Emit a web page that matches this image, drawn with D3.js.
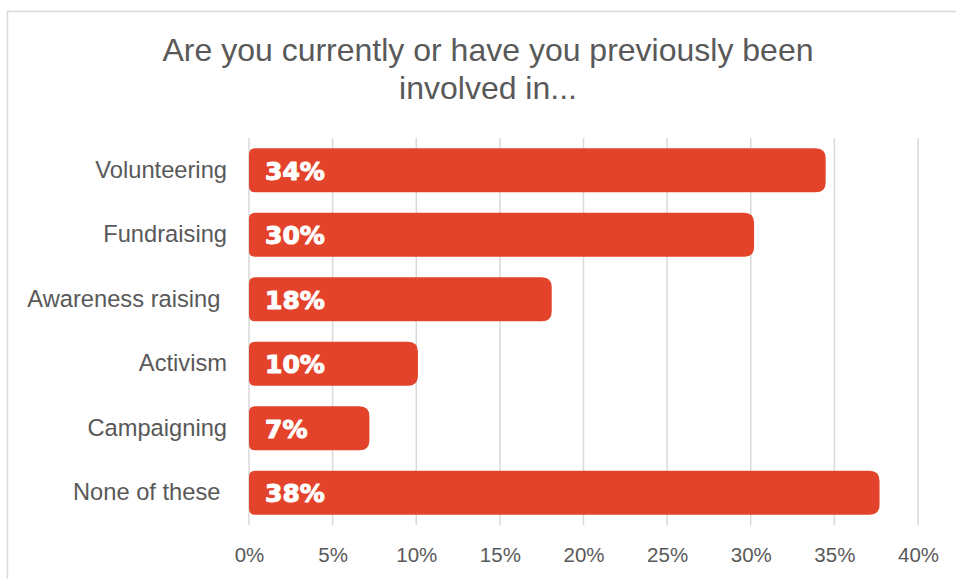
<!DOCTYPE html>
<html>
<head>
<meta charset="utf-8">
<script src="https://cdn.jsdelivr.net/npm/d3@7"></script>
<style>
  html, body { margin: 0; padding: 0; background: #fff; }
  svg { display: block; }
</style>
</head>
<body>
<svg id="chart" width="956" height="579"></svg>
<script>
// Survey answers, in display order (top to bottom)
const categories = ["Volunteering", "Fundraising", "Awareness raising ", "Activism", "Campaigning", "None of these "];
const shares = [0.3448, 0.302, 0.181, 0.101, 0.072, 0.377];
const tickValues = [0, 0.05, 0.10, 0.15, 0.20, 0.25, 0.30, 0.35, 0.40];
const titleLines = ["Are you currently or have you previously been", "involved in..."];

const svg = d3.select("#chart");
const W = 956, H = 579;
const margin = { top: 138, right: 38, bottom: 54, left: 249 };
const textGray = "#595959";
const barColor = "#E2432A";

// Outer frame
svg.append("rect")
  .attr("x", 7.5).attr("y", 11.5)
  .attr("width", 980).attr("height", 600)
  .attr("fill", "#fff")
  .attr("stroke", "#d9d9d9").attr("stroke-width", 1.5);

// Title
svg.append("text")
  .attr("x", 488).attr("y", 61)
  .attr("text-anchor", "middle")
  .attr("font-family", "Liberation Sans, Arial, sans-serif")
  .attr("font-size", 32)
  .attr("fill", textGray)
  .selectAll("tspan")
  .data(titleLines)
  .join("tspan")
  .attr("x", 488)
  .attr("dy", (d, i) => i === 0 ? 0 : 38)
  .text(d => d);

const x = d3.scaleLinear().domain([0, 0.40]).range([margin.left, 918]);
const y = d3.scaleBand().domain(categories).range([margin.top, H - margin.bottom]).paddingInner(0.32).paddingOuter(0.16);

// Vertical gridlines
svg.append("g")
  .selectAll("line")
  .data(tickValues)
  .join("line")
  .attr("x1", d => x(d)).attr("x2", d => x(d))
  .attr("y1", margin.top).attr("y2", H - margin.bottom)
  .attr("stroke", "#d9d9d9").attr("stroke-width", 1.5);

// Bottom axis labels
const xAxis = d3.axisBottom(x).tickValues(tickValues).tickFormat(d3.format(".0%")).tickSize(0).tickPadding(0);
const gx = svg.append("g")
  .attr("transform", `translate(0,${H - margin.bottom + 22})`)
  .call(xAxis);
gx.select(".domain").remove();
gx.selectAll("text")
  .attr("font-family", "Liberation Sans, Arial, sans-serif")
  .attr("font-size", 20.5)
  .attr("fill", textGray);

// Category labels
const yAxis = d3.axisLeft(y).tickSize(0).tickPadding(22);
const gy = svg.append("g")
  .attr("transform", `translate(${margin.left},0)`)
  .call(yAxis);
gy.select(".domain").remove();
gy.selectAll("text")
  .attr("font-family", "Liberation Sans, Arial, sans-serif")
  .attr("font-size", 23.7)
  .attr("fill", textGray)
  .style("white-space", "pre");

// Bar shape: small radius at the base, larger at the tip
function barPath(x0, y0, w, h) {
  const rl = 6, rr = 10;
  return `M${x0 + rl},${y0}` +
    `H${x0 + w - rr}` +
    `Q${x0 + w},${y0} ${x0 + w},${y0 + rr}` +
    `V${y0 + h - rr}` +
    `Q${x0 + w},${y0 + h} ${x0 + w - rr},${y0 + h}` +
    `H${x0 + rl}` +
    `Q${x0},${y0 + h} ${x0},${y0 + h - rl}` +
    `V${y0 + rl}` +
    `Q${x0},${y0} ${x0 + rl},${y0}Z`;
}

const rows = categories.map((c, i) => ({ cat: c, v: shares[i] }));

svg.append("g")
  .selectAll("path")
  .data(rows)
  .join("path")
  .attr("d", d => barPath(x(0), y(d.cat), x(d.v) - x(0), y.bandwidth()))
  .attr("fill", barColor);

// Value labels inside bars
svg.append("g")
  .selectAll("text")
  .data(rows)
  .join("text")
  .attr("x", x(0) + 16)
  .attr("y", d => y(d.cat) + y.bandwidth() / 2)
  .attr("dy", "0.38em")
  .attr("font-family", "DejaVu Sans, sans-serif")
  .attr("font-weight", "bold")
  .attr("font-size", 25)
  .attr("fill", "#fff")
  .attr("stroke", "#fff").attr("stroke-width", 1.1)
  .attr("stroke-linejoin", "round")
  .text(d => d3.format(".0%")(d.v));
</script>
</body>
</html>
